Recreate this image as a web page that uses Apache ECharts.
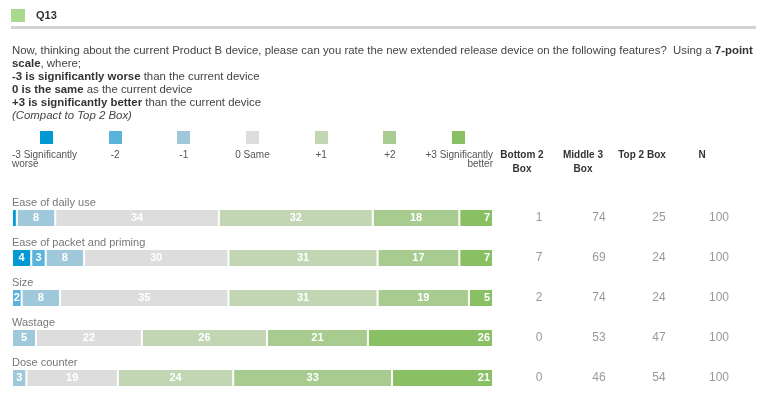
<!DOCTYPE html>
<html>
<head>
<meta charset="utf-8">
<script src="https://cdn.jsdelivr.net/npm/echarts@6/dist/echarts.min.js"></script>
<style>
  html, body { margin: 0; padding: 0; background: #fff; }
  #chart { width: 762px; height: 398px; }
</style>
</head>
<body>
<div id="chart"></div>
<script>
// categories (rows), top to bottom
const categories = ['Ease of daily use', 'Ease of packet and priming', 'Size', 'Wastage', 'Dose counter'];

// scale points, -3 .. +3
const scaleNames = ['-3 Significantly\nworse', '-2', '-1', '0 Same', '+1', '+2', '+3 Significantly\nbetter'];
const scaleColors = ['#0099d4', '#5ab3d8', '#9fc8da', '#dddddd', '#c2d6b4', '#a8cb8f', '#89c064'];

// percentages per scale point, one value per row
const minus3 = [1, 4, 0, 0, 0];
const minus2 = [0, 3, 2, 0, 0];
const minus1 = [8, 8, 8, 5, 3];
const zero = [34, 30, 35, 22, 19];
const plus1 = [32, 31, 31, 26, 24];
const plus2 = [18, 17, 19, 21, 33];
const plus3 = [7, 7, 5, 26, 21];
const scaleValues = [minus3, minus2, minus1, zero, plus1, plus2, plus3];

// summary columns
const tableHeads = ['Bottom 2\nBox', 'Middle 3\nBox', 'Top 2 Box', 'N'];
const bottom2 = [1, 7, 2, 0, 0];
const middle3 = [74, 69, 74, 53, 46];
const top2 = [25, 24, 24, 47, 54];
const nBase = [100, 100, 100, 100, 100];

const FONT = '"Liberation Sans", Arial, Helvetica, sans-serif';

const chart = echarts.init(document.getElementById('chart'));

// bar segments (empty segments left out so they leave no white gap)
const series = scaleValues.map((vals, i) => ({
    name: scaleNames[i],
    type: 'bar',
    stack: 'total',
    barWidth: 18,
    data: vals.map(v => (v === 0 ? '-' : v)),
    itemStyle: { color: scaleColors[i], borderColor: '#fff', borderWidth: 1 },
    label: {
        show: true,
        position: i === scaleValues.length - 1 ? 'insideRight' : 'inside',
        distance: 3,
        color: '#fff',
        fontFamily: FONT,
        fontWeight: 'bold',
        fontSize: 11,
        formatter: p => (p.value > 1 ? String(p.value) : '')
    },
    emphasis: { disabled: true },
    silent: true
}));

// header, question text, legend, table heads
const graphics = [
    { type: 'rect', shape: { x: 11, y: 9, width: 14, height: 13 }, style: { fill: '#a9d88f' } },
    { type: 'text', x: 36, y: 15.5, style: { text: 'Q13', fill: '#333', font: 'bold 11px ' + FONT, verticalAlign: 'middle' } },
    { type: 'rect', shape: { x: 11, y: 26, width: 745, height: 3 }, style: { fill: '#d3d3d3' } },
    {
        type: 'text', x: 12, y: 44,
        style: {
            text: 'Now, thinking about the current Product B device, please can you rate the new extended release device on the following features?  Using a {b|7-point}\n' +
                '{b|scale}, where;\n' +
                '{b|-3 is significantly worse} than the current device\n' +
                '{b|0 is the same} as the current device\n' +
                '{b|+3 is significantly better} than the current device\n' +
                '{i|(Compact to Top 2 Box)}',
            fill: '#444', fontFamily: FONT, fontSize: 11.4, lineHeight: 13,
            rich: {
                b: { fontFamily: FONT, fontSize: 11.4, fontWeight: 'bold', fill: '#333', lineHeight: 13 },
                i: { fontFamily: FONT, fontSize: 11.4, fontStyle: 'italic', fill: '#444', lineHeight: 13 }
            }
        }
    }
];

const cellW = 481 / scaleNames.length;
scaleNames.forEach((nm, i) => {
    const cx = 12 + cellW * (i + 0.5);
    graphics.push({ type: 'rect', shape: { x: Math.round(cx - 6.5), y: 131, width: 13, height: 13 }, style: { fill: scaleColors[i] } });
    let align = 'center', tx = cx;
    if (i === 0) { align = 'left'; tx = 12; }
    if (i === scaleNames.length - 1) { align = 'right'; tx = 493; }
    graphics.push({
        type: 'text', x: tx, y: 151,
        style: { text: nm, fill: '#555', fontFamily: FONT, fontSize: 10, lineHeight: 9, align: align }
    });
});

const headX = [522, 583, 642, 702];
tableHeads.forEach((h, i) => {
    graphics.push({
        type: 'text', x: headX[i], y: 148,
        style: { text: h, fill: '#333', fontFamily: FONT, fontSize: 10, fontWeight: 'bold', lineHeight: 14, align: 'center' }
    });
});

const colStyle = { width: 60, align: 'center', color: '#999', fontFamily: FONT, fontSize: 12 };

chart.setOption({
    animation: false,
    grid: { left: 12, right: 269, top: 198, height: 200 },
    xAxis: { type: 'value', min: 0, max: 100, show: false },
    yAxis: [
        {
            type: 'category',
            data: categories,
            inverse: true,
            axisLine: { show: false },
            axisTick: { show: false },
            splitLine: { show: false },
            axisLabel: {
                inside: true,
                margin: 0,
                verticalAlign: 'bottom',
                padding: [0, 0, 10, 0],
                color: '#777',
                fontFamily: FONT,
                fontSize: 11
            }
        },
        {
            type: 'category',
            data: categories,
            inverse: true,
            position: 'right',
            axisLine: { show: false },
            axisTick: { show: false },
            splitLine: { show: false },
            axisLabel: {
                margin: 16,
                formatter: (v, idx) => '{c|' + bottom2[idx] + '}{c|' + middle3[idx] + '}{c|' + top2[idx] + '}{c|' + nBase[idx] + '}',
                rich: { c: colStyle }
            }
        }
    ],
    series: series,
    graphic: graphics
});
</script>
</body>
</html>
